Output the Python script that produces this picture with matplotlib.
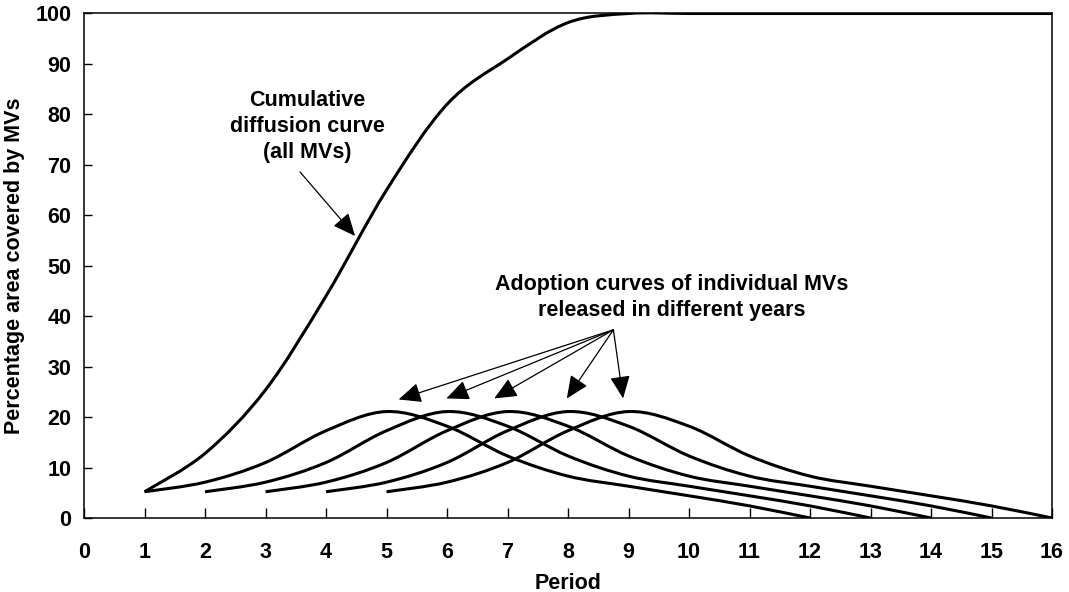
import numpy as np
import matplotlib
matplotlib.use("Agg")
import matplotlib.pyplot as plt
from matplotlib.path import Path
from matplotlib.patches import PathPatch

# --- data ---
periods = list(range(0, 17))
cumulative_x = [1, 2, 3, 4, 5, 6, 7, 8, 9, 10, 11, 12, 13, 14, 15, 16]
cumulative_y = [5.2, 12.8, 25.4, 44.0, 65.0, 82.0, 91.0, 98.2, 100, 100, 100, 100, 100, 100, 100, 100]

mv1_x = [1, 2, 3, 4, 5, 6, 7, 8, 9, 10, 11, 12]
mv1_y = [5.2, 7.1, 11.0, 17.3, 21.1, 18.2, 12.3, 8.3, 6.3, 4.4, 2.4, 0.0]
mv2_x = [2, 3, 4, 5, 6, 7, 8, 9, 10, 11, 12, 13]
mv2_y = [5.2, 7.1, 11.0, 17.3, 21.1, 18.2, 12.3, 8.3, 6.3, 4.4, 2.4, 0.0]
mv3_x = [3, 4, 5, 6, 7, 8, 9, 10, 11, 12, 13, 14]
mv3_y = [5.2, 7.1, 11.0, 17.3, 21.1, 18.2, 12.3, 8.3, 6.3, 4.4, 2.4, 0.0]
mv4_x = [4, 5, 6, 7, 8, 9, 10, 11, 12, 13, 14, 15]
mv4_y = [5.2, 7.1, 11.0, 17.3, 21.1, 18.2, 12.3, 8.3, 6.3, 4.4, 2.4, 0.0]
mv5_x = [5, 6, 7, 8, 9, 10, 11, 12, 13, 14, 15, 16]
mv5_y = [5.2, 7.1, 11.0, 17.3, 21.1, 18.2, 12.3, 8.3, 6.3, 4.4, 2.4, 0.0]

y_ticks = [0, 10, 20, 30, 40, 50, 60, 70, 80, 90, 100]

# annotation anchors (data coords)
cum_label = "Cumulative\ndiffusion curve\n(all MVs)"
cum_label_xy = (3.69, 77.6)
cum_arrow_tail = (3.57, 68.6)
cum_arrow_head = (4.48, 55.9)

mv_label = "Adoption curves of individual MVs\nreleased in different years"
mv_label_xy = (9.72, 43.7)
mv_arrow_tail = (8.75, 37.3)
mv_arrow_heads = [(5.20, 23.5), (5.99, 23.7), (6.78, 23.7), (7.98, 23.7), (8.91, 23.7)]

FS = 15.5


def smooth_path(xs, ys):
    """Excel風のスムージング線（ベジエ曲線）"""
    pts = np.column_stack([xs, ys]).astype(float)
    n = len(pts)
    verts = [pts[0]]
    codes = [Path.MOVETO]
    for i in range(n - 1):
        p_prev = pts[i - 1] if i > 0 else pts[i]
        p_next2 = pts[i + 2] if i + 2 < n else pts[i + 1]
        c1 = pts[i] + (pts[i + 1] - p_prev) / 6.0
        c2 = pts[i + 1] - (p_next2 - pts[i]) / 6.0
        verts += [c1, c2, pts[i + 1]]
        codes += [Path.CURVE4] * 3
    return Path(verts, codes)


def add_curve(ax, xs, ys, lw=2.2):
    patch = PathPatch(smooth_path(xs, ys), facecolor='none', edgecolor='black',
                      lw=lw, capstyle='butt', joinstyle='round')
    ax.add_patch(patch)


plt.rcParams["font.family"] = ["Liberation Sans", "DejaVu Sans"]
plt.rcParams["font.weight"] = "bold"
plt.rcParams["font.size"] = FS

fig = plt.figure(figsize=(10.69, 5.92), dpi=100)
ax = fig.add_axes([0.0786, 0.125, 0.9055, 0.8522])

add_curve(ax, cumulative_x, cumulative_y)
for xs, ys in [(mv1_x, mv1_y), (mv2_x, mv2_y), (mv3_x, mv3_y),
               (mv4_x, mv4_y), (mv5_x, mv5_y)]:
    add_curve(ax, xs, ys)

ax.set_xlim(0, 16)
ax.set_ylim(0, 100)
ax.set_xticks(periods)
ax.set_yticks(y_ticks)
ax.tick_params(axis='x', direction='in', length=7, width=1.0, pad=17, labelsize=FS)
ax.tick_params(axis='y', direction='in', length=6, width=1.0, pad=9, labelsize=FS)
for s in ax.spines.values():
    s.set_linewidth(1.1)

ax.set_xlabel('Period', fontsize=FS, fontweight='bold', labelpad=7.5)
ax.set_ylabel('Percentage area covered by MVs', fontsize=FS, fontweight='bold')
ax.yaxis.set_label_coords(-0.061, 0.5)

# 注釈テキストと矢印
ax.text(*cum_label_xy, cum_label, ha='center', va='center', fontsize=FS,
        fontweight='bold', linespacing=1.3)
ax.annotate('', xy=cum_arrow_head, xytext=cum_arrow_tail,
            arrowprops=dict(arrowstyle='-|>,head_length=0.9,head_width=0.4',
                            color='black', lw=0.9, shrinkA=0, shrinkB=0))

ax.text(*mv_label_xy, mv_label, ha='center', va='center', fontsize=FS,
        fontweight='bold', linespacing=1.3)
for head in mv_arrow_heads:
    ax.annotate('', xy=head, xytext=mv_arrow_tail,
                arrowprops=dict(arrowstyle='-|>,head_length=0.9,head_width=0.4',
                                color='black', lw=0.9, shrinkA=0, shrinkB=0))

fig.savefig('out.png', dpi=100)
